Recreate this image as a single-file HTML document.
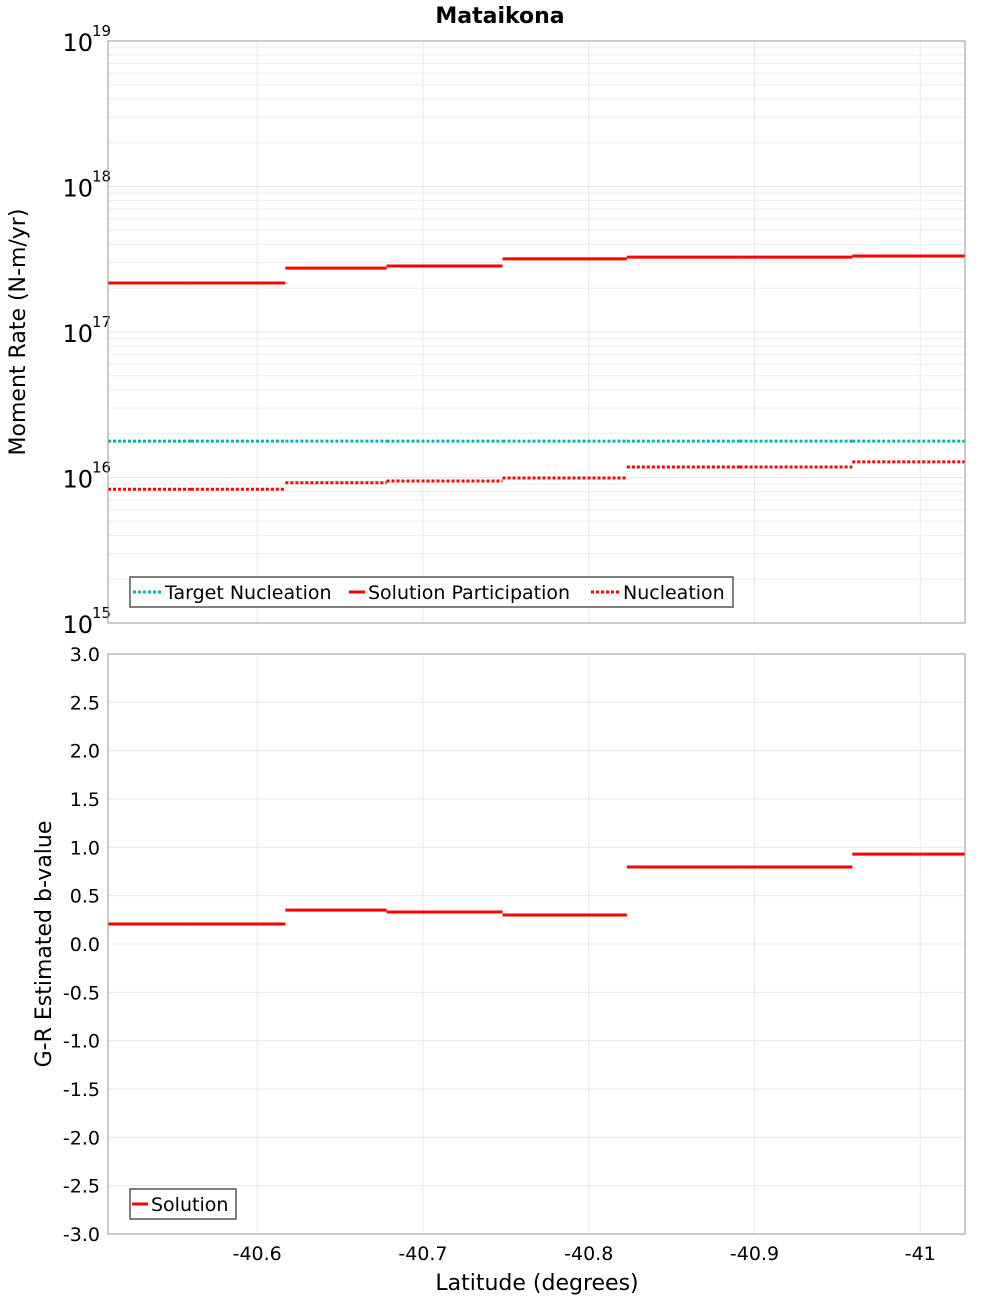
<!DOCTYPE html>
<html><head><meta charset="utf-8"><style>
body{margin:0;background:#fff}
svg text{font-family:"DejaVu Sans","Liberation Sans",sans-serif}
</style></head><body>
<svg id="chart" width="1000" height="1300" xmlns="http://www.w3.org/2000/svg"></svg>
<script>
// data
const segLat = [-40.510,-40.560,-40.617,-40.678,-40.748,-40.823,-40.891,-40.959,-41.027];
const participation = [2.17e17,2.17e17,2.75e17,2.84e17,3.18e17,3.27e17,3.27e17,3.33e17];
const nucleation = [8.3e15,8.3e15,9.2e15,9.46e15,9.93e15,1.18e16,1.18e16,1.28e16];
const targetNucleation = [1.78e16,1.78e16,1.78e16,1.78e16,1.78e16,1.78e16,1.78e16,1.78e16];
const bValue = [0.207,0.207,0.35,0.331,0.30,0.797,0.797,0.93];
const xTicks = [-40.6,-40.7,-40.8,-40.9,-41];
const xTickLabels = ["-40.6","-40.7","-40.8","-40.9","-41"];
const logExps = [15,16,17,18,19];
const bTicks = [-3,-2.5,-2,-1.5,-1,-0.5,0,0.5,1,1.5,2,2.5,3];

const svg=document.getElementById('chart');
const NS='http://www.w3.org/2000/svg';
function el(tag,attrs,parent,name){const e=document.createElementNS(NS,tag);for(const k in attrs)e.setAttribute(k,attrs[k]);


(parent||svg).appendChild(e);return e;}
const L=108,R=965;
const xS=lat=>L+(-40.510-lat)/(41.027-40.510)*(R-L);
const T1=41,B1=623;
const yLog=v=>T1+(19-Math.log10(v))/4*(B1-T1);
const T2=654,B2=1234;
const yB=v=>T2+(3-v)/6*(B2-T2);

el('text',{x:500,y:23,'text-anchor':'middle','font-size':22,'font-weight':'bold'},svg,'chart-title').textContent='Mataikona';

// top plot grid
const g1=el('g',{},svg,'top-grid');
for(let e=15;e<19;e++)for(let m=1;m<10;m++){const y=yLog(m*Math.pow(10,e));
el('line',{x1:L,x2:R,y1:y,y2:y,stroke:m==1?'#e6e6e6':'#eeeeee','stroke-width':1},g1,'top-gridline');}
xTicks.forEach(t=>{el('line',{x1:xS(t),x2:xS(t),y1:T1,y2:B1,stroke:'#e8e8e8'},g1,'top-vgridline');
el('line',{x1:xS(t),x2:xS(t),y1:T2,y2:B2,stroke:'#e8e8e8'},g1,'bottom-vgridline');});
const g2=el('g',{},svg,'bottom-grid');
bTicks.forEach(t=>el('line',{x1:L,x2:R,y1:yB(t),y2:yB(t),stroke:'#e8e8e8'},g2,'bottom-gridline'));

// top y labels
logExps.forEach(e=>{const y=yLog(Math.pow(10,e));
const t=el('text',{x:93,y:y+10,'text-anchor':'end','font-size':24},svg,'y-tick-label');t.textContent='10';
const s=el('text',{x:92,y:y-5,'font-size':15},svg,'y-tick-exponent');s.textContent=String(e);});
// bottom y labels
bTicks.forEach(t=>{el('text',{x:100,y:yB(t)+7,'text-anchor':'end','font-size':19},svg,'b-tick-label').textContent=t.toFixed(1);});
// x labels
xTicks.forEach((t,i)=>{el('text',{x:xS(t),y:1260,'text-anchor':'middle','font-size':19},svg,'x-tick-label').textContent=xTickLabels[i];});
el('text',{x:537,y:1290,'text-anchor':'middle','font-size':22},svg,'x-axis-title').textContent='Latitude (degrees)';
el('text',{x:0,y:0,'text-anchor':'middle','font-size':22,transform:'translate(25,332) rotate(-90)'},svg,'top-y-axis-title').textContent='Moment Rate (N-m/yr)';
el('text',{x:0,y:0,'text-anchor':'middle','font-size':22,transform:'translate(51,944) rotate(-90)'},svg,'bottom-y-axis-title').textContent='G-R Estimated b-value';

function steps(vals,yf,attrs,name){const g=el('g',{},svg,name);
vals.forEach((v,i)=>{const a=Object.assign({x1:xS(segLat[i]),x2:xS(segLat[i+1]),y1:yf(v),y2:yf(v)},attrs);
el('line',a,g,name+'-segment');});}
steps(targetNucleation,yLog,{stroke:'#00b2b2','stroke-width':3,'stroke-dasharray':'3,2'},'target-nucleation-series');
steps(participation,yLog,{stroke:'#ff0000','stroke-width':3},'solution-participation-series');
steps(nucleation,yLog,{stroke:'#ff0000','stroke-width':3,'stroke-dasharray':'3,2'},'nucleation-series');
steps(bValue,yB,{stroke:'#ff0000','stroke-width':3},'b-value-series');

// frames
el('rect',{x:L,y:T1,width:R-L,height:B1-T1,fill:'none',stroke:'#999'},svg,'top-plot-frame');
el('rect',{x:L,y:T2,width:R-L,height:B2-T2,fill:'none',stroke:'#999'},svg,'bottom-plot-frame');

// legends
const lg=el('g',{},svg,'top-legend');
el('rect',{x:130,y:577,width:603,height:30,fill:'#fff',stroke:'#555','stroke-width':1.5},lg,'top-legend-box');
el('line',{x1:133,x2:161,y1:592,y2:592,stroke:'#00b2b2','stroke-width':3,'stroke-dasharray':'3,2'},lg,'legend-swatch-target');
el('text',{x:165,y:599,'font-size':19},lg,'legend-target-nucleation').textContent='Target Nucleation';
el('line',{x1:349,x2:365,y1:592,y2:592,stroke:'#ff0000','stroke-width':3},lg,'legend-swatch-participation');
el('text',{x:368,y:599,'font-size':19},lg,'legend-solution-participation').textContent='Solution Participation';
el('line',{x1:591,x2:619,y1:592,y2:592,stroke:'#ff0000','stroke-width':3,'stroke-dasharray':'3,2'},lg,'legend-swatch-nucleation');
el('text',{x:623,y:599,'font-size':19},lg,'legend-nucleation').textContent='Nucleation';
const lg2=el('g',{},svg,'bottom-legend');
el('rect',{x:130,y:1189,width:106,height:30,fill:'#fff',stroke:'#555','stroke-width':1.5},lg2,'bottom-legend-box');
el('line',{x1:132,x2:148,y1:1204,y2:1204,stroke:'#ff0000','stroke-width':3},lg2,'legend-swatch-solution');
el('text',{x:151,y:1211,'font-size':19},lg2,'legend-solution').textContent='Solution';
</script>
</body></html>
